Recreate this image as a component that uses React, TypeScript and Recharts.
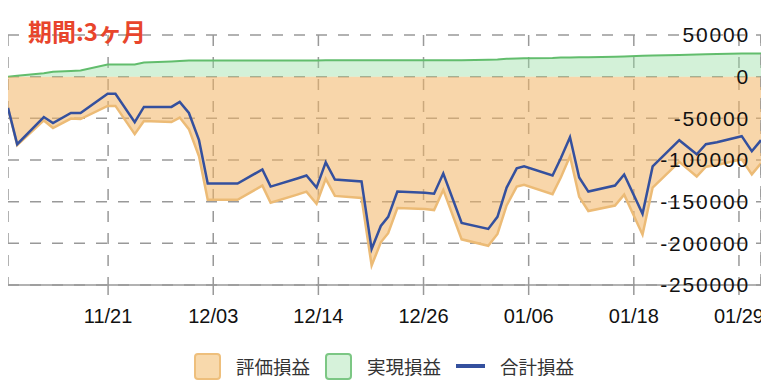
import {
  ComposedChart,
  Area,
  Line,
  XAxis,
  YAxis,
  CartesianGrid,
  ReferenceLine,
  Legend,
} from 'recharts';

// days counted from 11/10
const days = [
  0, 1, 3.9, 4.9, 6.85, 7.9, 10.85, 11.7, 13.8, 14.8, 17.8, 18.7, 19.7, 20.8, 21.75, 25.0, 27.7, 28.6,
  31.5, 32.5, 33.6, 34.6, 35.6, 38.5, 39.6, 40.6, 41.4, 42.4, 45.4, 46.4, 47.4, 49.4, 52.3, 53.3, 54.3,
  55.4, 56.2, 59.3, 60.2, 61.2, 62.2, 63.2, 66.1, 67.1, 69.1, 70.2, 73.1, 75.0, 76.0, 77.2, 79.9, 81.0, 82.0,
];

// 評価損益
const unrealized = [
  -37500, -82200, -52500, -61700, -50300, -50900, -35100, -35100, -69000, -53200, -54500, -49100, -63000,
  -95600, -147700, -147700, -130700, -151300, -141600, -138000, -152500, -122600, -143100, -145500,
  -226600, -198800, -187900, -157600, -158900, -160100, -135900, -195200, -202900, -188800, -154500,
  -131900, -129700, -141000, -121000, -95600, -144200, -161200, -154600, -141600, -189600, -133100,
  -102200, -119800, -108000, -105900, -99200, -117300, -104000,
];

// 実現損益
const realized = [
  0, 1200, 4100, 6000, 6700, 7300, 14500, 14500, 14500, 16900, 18200, 18800, 19400, 19400, 19400, 19400,
  19400, 19400, 19400, 19400, 19400, 19700, 19700, 19700, 19700, 19700, 19700, 19700, 19700, 19700, 19700,
  19700, 20200, 20600, 21400, 21800, 22000, 22400, 23000, 23000, 23200, 23300, 23900, 24200, 25000, 25400,
  26000, 26600, 26900, 27200, 27800, 27800, 27800,
];

// 合計損益
const total = [
  -37500, -81000, -48400, -55700, -43600, -43600, -20600, -20600, -54500, -36300, -36300, -30300, -43600,
  -76200, -128300, -128300, -111300, -131900, -122200, -118600, -133100, -102900, -123400, -125800,
  -206900, -179100, -168200, -137900, -139200, -140400, -116200, -175500, -182700, -168200, -133100,
  -110100, -107700, -118600, -98000, -72600, -121000, -137900, -130700, -117400, -164600, -107700,
  -76200, -93200, -81100, -78700, -71400, -89500, -76200,
];

const tickDays = [10.9, 22.35, 33.8, 45.25, 56.7, 68.15, 79.6];
const tickLabels = ['11/21', '12/03', '12/14', '12/26', '01/06', '01/18', '01/29'];
const yTicks = [50000, 0, -50000, -100000, -150000, -200000, -250000];

const data = days.map((day, i) => ({
  day,
  unrealized: unrealized[i],
  realized: realized[i],
  total: total[i],
}));

const legendText = { fontSize: 18.5, color: '#333', margin: '0 15px' };

function ChartLegend() {
  return (
    <div style={{ display: 'flex', justifyContent: 'center', alignItems: 'center', height: 40, marginLeft: 14 }}>
      <span style={{ width: 23, height: 23, borderRadius: 4, border: '2px solid #eebf7c', background: '#f8d9ac' }} />
      <span style={legendText}>評価損益</span>
      <span style={{ width: 23, height: 23, borderRadius: 4, border: '2px solid #7cc784', background: '#d6f2da' }} />
      <span style={legendText}>実現損益</span>
      <span style={{ width: 29, height: 4, background: '#34509e' }} />
      <span style={legendText}>合計損益</span>
    </div>
  );
}

export default function App() {
  return (
    <div
      style={{
        position: 'relative',
        width: 761,
        height: 384,
        fontFamily: '"Liberation Sans", Arial, "Noto Sans CJK JP", sans-serif',
      }}
    >
      <ComposedChart width={761} height={384} data={data} margin={{ top: 27, right: 8, left: 0, bottom: 6 }}>
        <CartesianGrid stroke="#999" strokeWidth={1.5} strokeDasharray="11 11" />
        <XAxis
          dataKey="day"
          type="number"
          domain={[0, 82]}
          ticks={tickDays}
          interval={0}
          tickFormatter={(v, i) => tickLabels[i]}
          height={61}
          tickSize={10}
          tickMargin={14}
          axisLine={{ stroke: '#999', strokeWidth: 1.5 }}
          tickLine={{ stroke: '#999', strokeWidth: 1.5 }}
          tick={{ fill: '#111', fontSize: 20 }}
        />
        <YAxis
          orientation="right"
          mirror
          width={1}
          domain={[-250000, 50000]}
          ticks={yTicks}
          interval={0}
          axisLine={false}
          tickLine={false}
          tickSize={0}
          tickMargin={11}
          tick={{ fill: '#111', fontSize: 21, letterSpacing: 1.8 }}
        />
        <Area
          type="linear"
          dataKey="realized"
          name="実現損益"
          stroke="#62bd6d"
          strokeWidth={2}
          fill="rgb(150,222,162)"
          fillOpacity={0.42}
          isAnimationActive={false}
        />
        <Area
          type="linear"
          dataKey="unrealized"
          name="評価損益"
          stroke="#ecbb76"
          strokeWidth={2.5}
          fill="rgb(242,180,100)"
          fillOpacity={0.55}
          isAnimationActive={false}
        />
        <ReferenceLine x={82} stroke="#999" strokeWidth={1.5} strokeDasharray="11 11" />
        <Line
          type="linear"
          dataKey="total"
          name="合計損益"
          stroke="#34509e"
          strokeWidth={2.5}
          dot={false}
          isAnimationActive={false}
        />
        <Legend verticalAlign="bottom" content={<ChartLegend />} />
      </ComposedChart>
      <div
        style={{
          position: 'absolute',
          left: 20,
          top: 11,
          fontSize: 24,
          lineHeight: '24px',
          fontWeight: 'bold',
          color: '#e8452c',
          fontFamily: '"Noto Sans CJK JP", sans-serif',
        }}
      >
        期間:3ヶ月
      </div>
    </div>
  );
}
